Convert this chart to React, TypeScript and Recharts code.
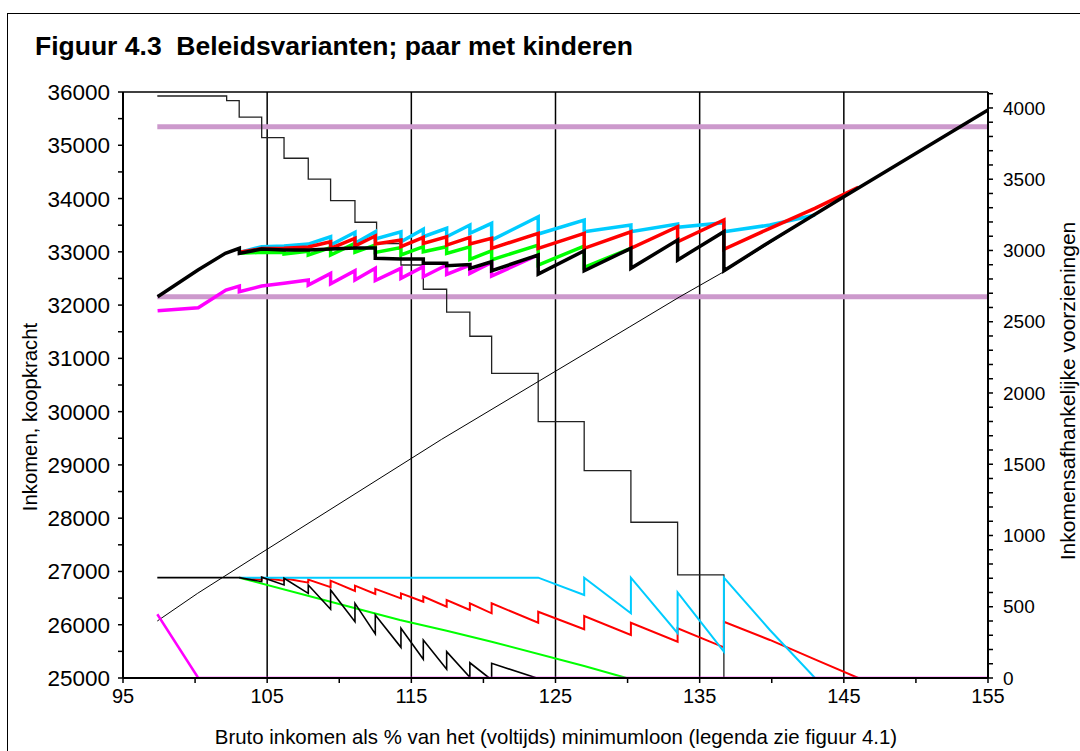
import { ComposedChart, Line, XAxis, YAxis, ReferenceLine } from 'recharts'

type Pt = [number, number]

// x-axis: bruto inkomen als % van het minimumloon
const X_TICKS = [95, 100, 105, 110, 115, 120, 125, 130, 135, 140, 145, 150, 155]
const X_LABELS = [95, 105, 115, 125, 135, 145, 155]
const GRID_X = [105, 115, 125, 135, 145]

const LEFT_TICKS = [
  25000, 25500, 26000, 26500, 27000, 27500, 28000, 28500, 29000, 29500, 30000, 30500,
  31000, 31500, 32000, 32500, 33000, 33500, 34000, 34500, 35000, 35500, 36000,
]
const RIGHT_TICKS = [
  0, 100, 200, 300, 400, 500, 600, 700, 800, 900, 1000, 1100, 1200, 1300, 1400, 1500,
  1600, 1700, 1800, 1900, 2000, 2100, 2200, 2300, 2400, 2500, 2600, 2700, 2800, 2900,
  3000, 3100, 3200, 3300, 3400, 3500, 3600, 3700, 3800, 3900, 4000, 4100,
]

// koopkracht (left axis)
const blackIncome: Pt[] = [
  [97.4, 32157], [100.2, 32658], [102.1, 32971], [103.07, 33065], [103.07, 32971],
  [104.62, 33052], [106.17, 33033], [107.85, 33033], [109.4, 33052], [111.09, 33070],
  [112.5, 33070], [112.5, 32880], [114.28, 32865], [115.83, 32865], [115.83, 32784],
  [117.45, 32784], [117.45, 32739], [119.06, 32760], [119.06, 32690], [120.57, 32814],
  [120.57, 32645], [123.8, 32940], [123.8, 32583], [126.99, 33020], [126.99, 32645],
  [130.23, 33066], [130.23, 32690], [133.47, 33221], [133.47, 32846], [136.68, 33377],
  [136.68, 32645], [139.87, 33190], [145.0, 34034], [155, 35661],
]
const redIncome: Pt[] = [
  [103.07, 32990], [104.62, 33060], [106.17, 33066], [107.85, 33090], [109.4, 33189],
  [109.4, 33066], [111.09, 33253], [111.09, 33109], [112.5, 33296], [112.5, 33146],
  [114.28, 33221], [114.28, 33096], [115.83, 33272], [115.83, 33159], [117.45, 33283],
  [117.45, 33127], [119.06, 33272], [119.06, 33146], [120.57, 33253], [120.57, 33066],
  [123.8, 33347], [123.8, 33066], [126.99, 33347], [126.99, 33066], [130.23, 33377],
  [130.23, 33066], [133.47, 33471], [133.47, 33189], [136.68, 33597], [136.68, 33046],
  [139.87, 33441], [142.99, 33816], [146.0, 34210],
]
const cyanIncome: Pt[] = [
  [103.07, 32990], [104.62, 33096], [106.17, 33109], [107.85, 33146], [109.4, 33283],
  [109.4, 33127], [111.09, 33366], [111.09, 33159], [112.5, 33377], [112.5, 33240],
  [114.28, 33377], [114.28, 33189], [115.83, 33422], [115.83, 33283], [117.45, 33441],
  [117.45, 33283], [119.06, 33503], [119.06, 33347], [120.57, 33535], [120.57, 33221],
  [123.8, 33659], [123.8, 33334], [126.99, 33597], [126.99, 33377], [130.23, 33503],
  [130.23, 33377], [133.47, 33521], [133.47, 33460], [136.68, 33546], [136.68, 33377],
  [139.87, 33503], [143.0, 33690],
]
const greenIncome: Pt[] = [
  [103.07, 32971], [104.62, 32990], [106.17, 32985], [106.17, 32960], [107.85, 33010],
  [107.85, 32940], [109.4, 33080], [109.4, 32940], [111.09, 33159], [111.09, 32990],
  [112.5, 33130], [112.5, 32990], [114.28, 33080], [114.28, 32940], [115.83, 33096],
  [115.83, 33002], [117.45, 33096], [117.45, 32971], [119.06, 33096], [119.06, 32859],
  [120.57, 33020], [120.57, 32850], [123.8, 33127], [123.8, 32752], [126.99, 33109],
  [126.99, 32709], [130.23, 33066],
]
const magentaIncome: Pt[] = [
  [97.4, 31894], [100.22, 31950], [102.14, 32283], [103.07, 32358], [103.07, 32251],
  [104.62, 32358], [106.17, 32408], [107.85, 32470], [107.85, 32377], [109.4, 32596],
  [109.4, 32400], [111.09, 32645], [111.09, 32470], [112.5, 32690], [112.5, 32460],
  [114.28, 32690], [114.28, 32502], [115.83, 32720], [115.83, 32533], [117.45, 32752],
  [117.45, 32577], [119.06, 32752], [119.06, 32596], [120.57, 32800], [120.57, 32546],
  [123.8, 32940],
]
const thinIncome: Pt[] = [
  [97.38, 26070], [100.18, 26590], [103.81, 27214], [117.1, 29480], [130.16, 31594],
  [133.63, 32157], [136.68, 32627], [145.0, 34034], [155, 35661],
]
const upperRef: Pt[] = [[97.38, 35350], [155, 35350]]
const lowerRef: Pt[] = [[97.38, 32157], [155, 32157]]

// inkomensafhankelijke voorzieningen (right axis)
const totalAllowance: Pt[] = [
  [97.38, 4084], [102.19, 4051], [103.06, 3935], [104.62, 3792], [106.17, 3647],
  [107.85, 3500], [109.4, 3350], [111.09, 3198], [112.59, 3049], [114.28, 2898],
  [115.83, 2728], [117.45, 2567], [119.06, 2398], [120.57, 2138], [123.8, 1799],
  [126.99, 1455], [130.23, 1093], [133.47, 723], [136.68, 0], [155, 0],
]
const blackAllowance: Pt[] = [
  [97.38, 704], [103.07, 704], [104.62, 676], [104.62, 707], [106.17, 653], [106.17, 700],
  [107.85, 594], [107.85, 653], [109.4, 482], [109.4, 618], [111.09, 395], [111.09, 524],
  [112.5, 309], [112.5, 442], [114.28, 215], [114.28, 349], [115.83, 131], [115.83, 267],
  [117.45, 61], [117.45, 185], [119.06, 5], [119.06, 107], [120.4, 0], [120.57, 0],
  [120.57, 103], [123.7, 0], [155, 0],
]
const redAllowance: Pt[] = [
  [103.07, 704], [104.62, 690], [104.62, 704], [106.17, 683], [106.17, 700], [107.85, 669],
  [107.85, 690], [109.4, 637], [109.4, 683], [111.09, 611], [111.09, 648], [112.5, 590],
  [112.5, 625], [114.28, 559], [114.28, 594], [115.83, 535], [115.83, 571], [117.45, 500],
  [117.45, 547], [119.06, 477], [119.06, 524], [120.57, 454], [120.57, 524], [123.8, 388],
  [123.8, 465], [126.99, 342], [126.99, 435], [130.23, 302], [130.23, 388], [133.47, 255],
  [133.47, 349], [136.68, 215], [136.68, 395], [139.87, 267], [142.99, 131], [146.0, 0],
]
const greenAllowance: Pt[] = [
  [103.07, 704], [109.4, 535], [114.21, 407], [117.45, 332], [120.57, 255], [126.99, 84],
  [129.93, 0],
]
const cyanAllowance: Pt[] = [
  [103.07, 704], [123.8, 704], [126.99, 582], [126.99, 704], [130.23, 454], [130.23, 704],
  [133.47, 314], [133.47, 601], [136.68, 185], [136.68, 704], [139.87, 337], [143.0, 0],
]
const magentaAllowance: Pt[] = [[97.38, 447], [100.22, 0], [155, 0]]

const FONT = '"Liberation Sans", Arial, sans-serif'
const toData = (pts: Pt[]) => pts.map(([x, y]) => ({ x, y }))

function Series({
  pts,
  axis,
  color,
  width,
  type = 'linear',
}: {
  pts: Pt[]
  axis: 'left' | 'right'
  color: string
  width: number
  type?: 'linear' | 'stepAfter'
}) {
  return (
    <Line
      data={toData(pts)}
      dataKey="y"
      yAxisId={axis}
      type={type}
      stroke={color}
      strokeWidth={width}
      dot={false}
      activeDot={false}
      isAnimationActive={false}
      strokeLinejoin="miter"
    />
  )
}

export default function App() {
  const tickStyle = { fill: '#000', fontFamily: FONT }
  return (
    <div
      style={{
        position: 'absolute',
        left: 0,
        top: 0,
        width: 1080,
        height: 751,
        background: '#fff',
        fontFamily: FONT,
        overflow: 'hidden',
      }}
    >
      <div
        style={{
          position: 'absolute',
          left: 7,
          top: 13,
          width: 1080,
          height: 760,
          borderLeft: '1.5px solid #000',
          borderTop: '1.5px solid #000',
        }}
      />
      <div
        style={{
          position: 'absolute',
          left: 35,
          top: 31,
          fontSize: 26.5,
          lineHeight: 'normal',
          fontWeight: 'bold',
          whiteSpace: 'nowrap',
        }}
      >
        Figuur 4.3&nbsp;&nbsp;Beleidsvarianten; paar met kinderen
      </div>
      <div style={{ position: 'absolute', left: 0, top: 0 }}>
        <ComposedChart width={1080} height={751} margin={{ top: 92, right: 0, bottom: 0, left: 0 }}>
          <XAxis
            dataKey="x"
            type="number"
            domain={[95, 155]}
            ticks={X_TICKS}
            interval={0}
            height={73}
            allowDataOverflow
            tickFormatter={(v: number) => (X_LABELS.includes(v) ? String(v) : '')}
            tick={{ ...tickStyle, fontSize: 20 }}
            tickSize={5}
            tickMargin={6}
            axisLine={{ stroke: '#000', strokeWidth: 2 }}
            tickLine={{ stroke: '#000', strokeWidth: 1.5 }}
          />
          <YAxis
            yAxisId="left"
            domain={[25000, 36000]}
            ticks={LEFT_TICKS}
            interval={0}
            width={123}
            allowDataOverflow
            tickFormatter={(v: number) => (v % 1000 === 0 ? String(v) : '')}
            tick={{ ...tickStyle, fontSize: 22.5 }}
            tickSize={5}
            tickMargin={8}
            axisLine={{ stroke: '#000', strokeWidth: 2 }}
            tickLine={{ stroke: '#000', strokeWidth: 1.5 }}
          />
          <YAxis
            yAxisId="right"
            orientation="right"
            domain={[0, 4112]}
            ticks={RIGHT_TICKS}
            interval={0}
            width={92}
            allowDataOverflow
            tickFormatter={(v: number) => (v % 500 === 0 ? String(v) : '')}
            tick={{ ...tickStyle, fontSize: 19 }}
            tickSize={5}
            tickMargin={10}
            axisLine={{ stroke: '#000', strokeWidth: 2 }}
            tickLine={{ stroke: '#000', strokeWidth: 1.5 }}
          />
          <ReferenceLine yAxisId="left" y={36000} stroke="#000" strokeWidth={1.5} />

          {GRID_X.map((g) => (
            <Series key={g} pts={[[g, 25000], [g, 36000]]} axis="left" color="#000" width={1.5} />
          ))}

          <Series pts={upperRef} axis="left" color="#cc99cc" width={5} />
          <Series pts={lowerRef} axis="left" color="#cc99cc" width={5} />

          <Series pts={totalAllowance} axis="right" color="#222" width={1.3} type="stepAfter" />
          <Series pts={thinIncome} axis="left" color="#000" width={1} />

          <Series pts={greenAllowance} axis="right" color="#00ff00" width={2} />
          <Series pts={redAllowance} axis="right" color="#ff0000" width={2} />
          <Series pts={cyanAllowance} axis="right" color="#00ccff" width={2} />
          <Series pts={blackAllowance} axis="right" color="#000" width={1.6} />
          <Series pts={magentaAllowance} axis="right" color="#ff00ff" width={2.5} />

          <Series pts={magentaIncome} axis="left" color="#ff00ff" width={3.5} />
          <Series pts={greenIncome} axis="left" color="#00ff00" width={3.5} />
          <Series pts={cyanIncome} axis="left" color="#00ccff" width={3.5} />
          <Series pts={redIncome} axis="left" color="#ff0000" width={3.5} />
          <Series pts={blackIncome} axis="left" color="#000" width={3.5} />
        </ComposedChart>
      </div>
      <div
        style={{
          position: 'absolute',
          left: 556,
          top: 737,
          transform: 'translate(-50%, -50%)',
          fontSize: 20.4,
          whiteSpace: 'nowrap',
        }}
      >
        Bruto inkomen als % van het (voltijds) minimumloon (legenda zie figuur 4.1)
      </div>
      <div
        style={{
          position: 'absolute',
          left: 30,
          top: 417,
          transform: 'translate(-50%, -50%) rotate(-90deg)',
          fontSize: 20.3,
          whiteSpace: 'nowrap',
        }}
      >
        Inkomen, koopkracht
      </div>
      <div
        style={{
          position: 'absolute',
          left: 1068,
          top: 391,
          transform: 'translate(-50%, -50%) rotate(-90deg)',
          fontSize: 21,
          whiteSpace: 'nowrap',
        }}
      >
        Inkomensafhankelijke voorzieningen
      </div>
    </div>
  )
}
